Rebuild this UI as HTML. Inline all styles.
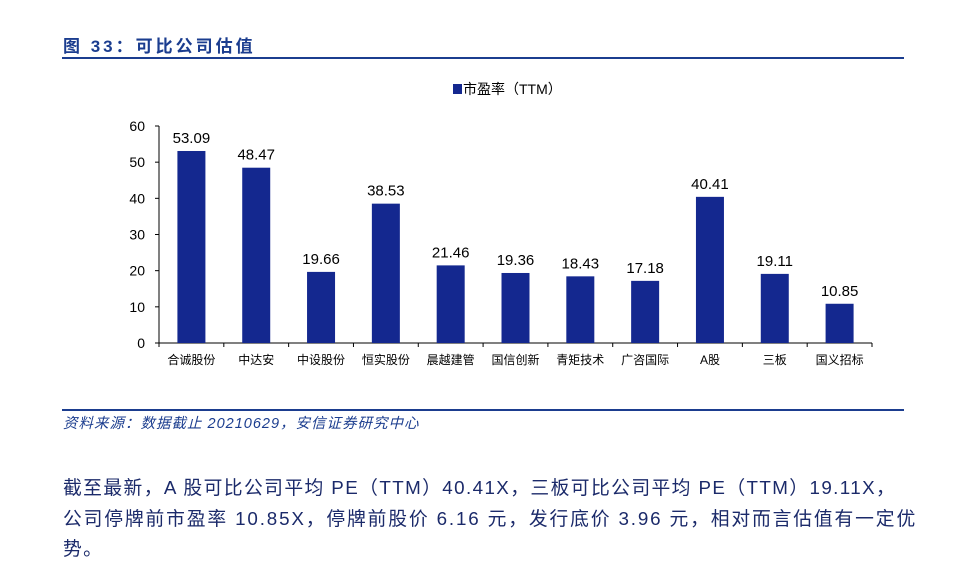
<!DOCTYPE html>
<html><head><meta charset="utf-8"><style>
body{margin:0;width:962px;height:582px;background:#fff;font-family:"Liberation Sans","Noto Sans CJK SC",sans-serif;position:relative;overflow:hidden}
.t{position:absolute;white-space:nowrap}
</style></head><body>
<div class="t" style="left:63px;top:32px;font-size:17px;font-weight:bold;color:#1b3d8f;letter-spacing:3px">图 33：可比公司估值</div>
<div style="position:absolute;left:62px;top:57px;width:842px;height:2px;background:#1b3d8f"></div>
<svg id="chart" width="962" height="400" style="position:absolute;left:0;top:0"></svg>
<div style="position:absolute;left:62px;top:409px;width:842px;height:2px;background:#1b3d8f"></div>
<div class="t" style="left:63px;top:412px;font-size:14.5px;font-style:italic;color:#1b3d8f;letter-spacing:1px">资料来源：数据截止 20210629，安信证券研究中心</div>
<div class="t" style="left:63px;top:473px;font-size:18.8px;line-height:30.5px;color:#1b2a6a;letter-spacing:1.4px">截至最新，A 股可比公司平均 PE（TTM）40.41X，三板可比公司平均 PE（TTM）19.11X，<br><span style="letter-spacing:1.85px">公司停牌前市盈率 10.85X，停牌前股价 6.16 元，发行底价 3.96 元，相对而言估值有一定优</span><br>势。</div>
<script>
const categories=["合诚股份","中达安","中设股份","恒实股份","晨越建管","国信创新","青矩技术","广咨国际","A股","三板","国义招标"];
const peValues=[53.09,48.47,19.66,38.53,21.46,19.36,18.43,17.18,40.41,19.11,10.85];
const yTicks=[0,10,20,30,40,50,60];
const svg=document.getElementById('chart');
const NS='http://www.w3.org/2000/svg';
const x0=159,x1=872,y0=343,y1=126,yMax=60;
const bw=(x1-x0)/categories.length;
const yS=v=>y0-(v/yMax)*(y0-y1);
const xC=i=>x0+bw*(i+0.5);
function mk(tag,attrs,text){const e=document.createElementNS(NS,tag);for(const k in attrs)e.setAttribute(k,attrs[k]);if(text!==undefined)e.textContent=text;svg.appendChild(e);return e;}
let e;
e=mk('line',{x1:x0,y1:y1,x2:x0,y2:y0,stroke:'#000','stroke-width':1});


e=mk('line',{x1:x0,y1:y0,x2:x1,y2:y0,stroke:'#000','stroke-width':1});


yTicks.forEach(t=>{
 e=mk('line',{x1:x0-4,y1:yS(t),x2:x0,y2:yS(t),stroke:'#000'});
 
 
 e=mk('text',{x:x0-14,y:yS(t)+5,'text-anchor':'end','font-size':14,fill:'#000'},t);
 
 
});
for(let i=0;i<=categories.length;i++){
 e=mk('line',{x1:x0+bw*i,y1:y0,x2:x0+bw*i,y2:y0+4,stroke:'#000'});
 
 
}
categories.forEach((c,i)=>{
 const v=peValues[i];
 e=mk('rect',{x:xC(i)-14,y:yS(v),width:28,height:y0-yS(v),fill:'#14288f'});
 
 
 e=mk('text',{x:xC(i),y:yS(v)-8,'text-anchor':'middle','font-size':15,fill:'#000'},v.toFixed(2));
 
 
 e=mk('text',{x:xC(i),y:y0+21,'text-anchor':'middle','font-size':12,fill:'#000'},c);
 
 
});
e=mk('rect',{x:453,y:84,width:9,height:10,fill:'#14288f'});


e=mk('text',{x:463,y:94,'font-size':14,fill:'#000'},'市盈率（TTM）');


</script>
</body></html>
